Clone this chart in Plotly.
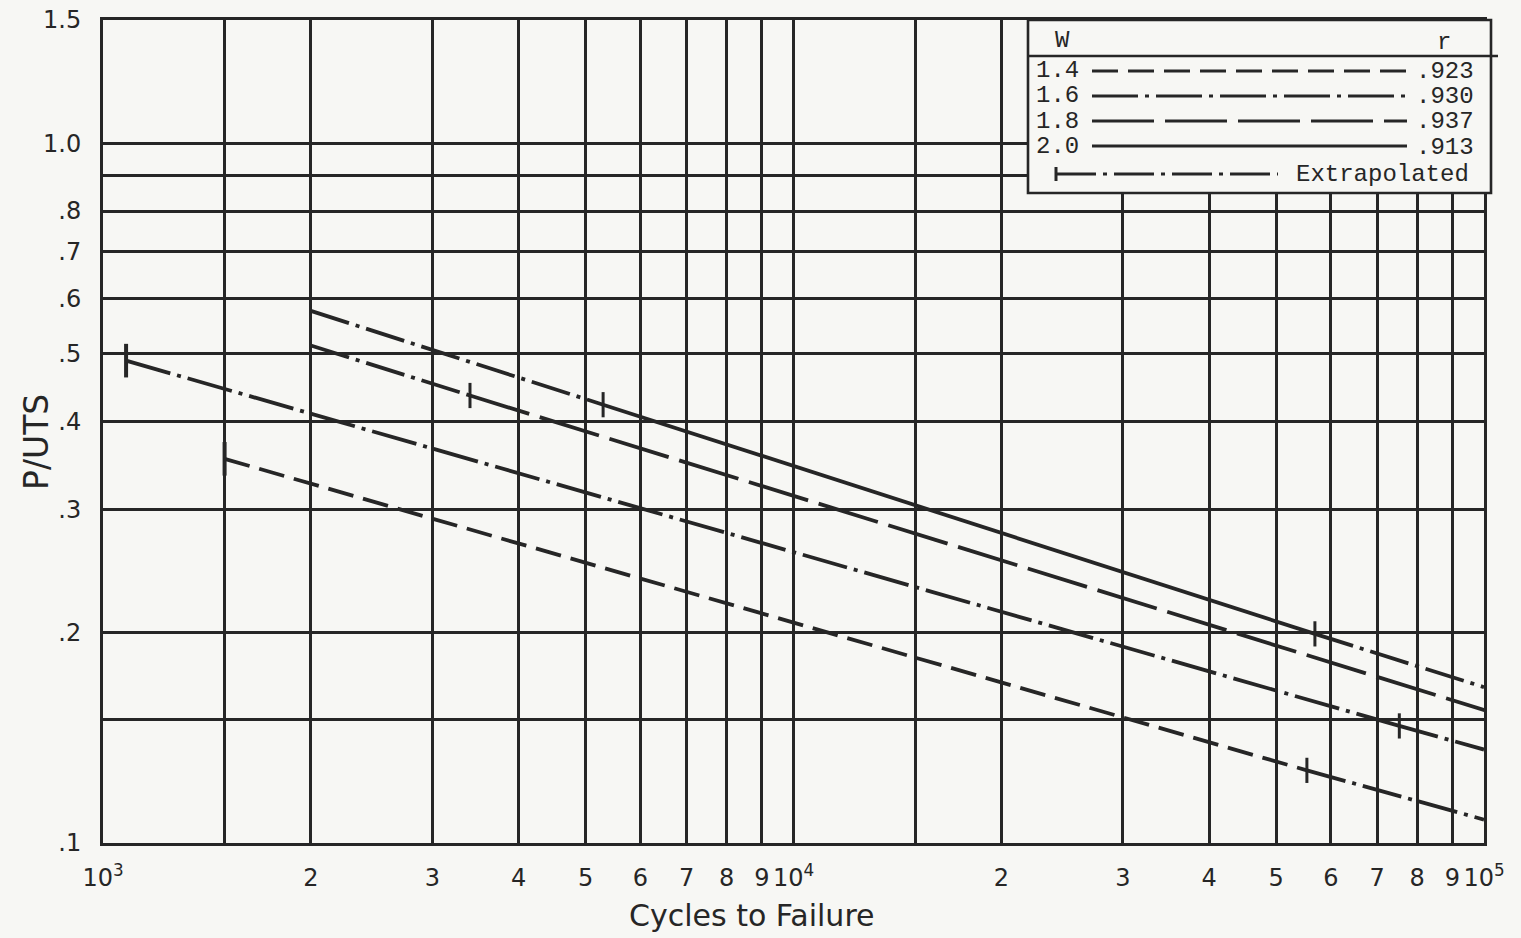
import math
import plotly.graph_objects as go

# ---- axis ticks -------------------------------------------------------------
x_tickvals = [1000, 1500, 2000, 3000, 4000, 5000, 6000, 7000, 8000, 9000,
              10000, 15000, 20000, 30000, 40000, 50000, 60000, 70000, 80000, 90000,
              100000]
x_ticktext = ["10<sup>3</sup>", "", "2", "3", "4", "5", "6", "7", "8", "9",
              "10<sup>4</sup>", "", "2", "3", "4", "5", "6", "7", "8", "9",
              "10<sup>5</sup>"]
y_tickvals = [0.1, 0.15, 0.2, 0.3, 0.4, 0.5, 0.6, 0.7, 0.8, 0.9, 1.0, 1.5]
y_ticktext = [".1", "", ".2", ".3", ".4", ".5", ".6", ".7", ".8", "", "1.0", "1.5"]

# ---- series: W values, correlation r, and break points of each fitted line ---
w_labels = ["1.4", "1.6", "1.8", "2.0"]
r_values = [".923", ".930", ".937", ".913"]

w14_x = [1500, 55400, 100000]
w14_y = [0.354, 0.127, 0.108]
w14_kind = ["data", "extrap"]          # kind of each segment between points

w16_x = [1080, 75400, 100000]
w16_y = [0.489, 0.147, 0.136]
w16_kind = ["data", "extrap"]

w18_x = [2000, 3400, 103000]
w18_y = [0.514, 0.436, 0.1535]
w18_kind = ["extrap", "data"]

w20_x = [2000, 5300, 56900, 100000]
w20_y = [0.576, 0.423, 0.199, 0.167]
w20_kind = ["extrap", "data", "extrap"]

# end bars (limits of extrapolation) and interior ticks (end of test data)
bar_x = [1500, 1080, 103000]
bar_y = [0.354, 0.489, 0.1535]
tick_x = [55400, 75400, 3400, 5300, 56900]
tick_y = [0.127, 0.147, 0.436, 0.423, 0.199]

# ---- styling ----------------------------------------------------------------
INK = "#262626"
PAPER = "#f7f7f4"
LW = 3.8
dash_styles = {
    "1.4": "26px,10px",
    "1.6": "46px,7px,4px,7px",
    "1.8": "62px,11px",
    "2.0": "solid",
    "extrap": "40px,7px,4px,7px",
}

series = [
    ("1.4", w14_x, w14_y, w14_kind),
    ("1.6", w16_x, w16_y, w16_kind),
    ("1.8", w18_x, w18_y, w18_kind),
    ("2.0", w20_x, w20_y, w20_kind),
]

fig = go.Figure()

for name, xs, ys, kinds in series:
    for i, kind in enumerate(kinds):
        dash = dash_styles[name] if kind == "data" else dash_styles["extrap"]
        fig.add_trace(go.Scatter(
            x=xs[i:i + 2], y=ys[i:i + 2], mode="lines",
            line=dict(color=INK, width=LW, dash=dash),
            showlegend=False, hoverinfo="skip",
        ))

fig.add_trace(go.Scatter(
    x=tick_x, y=tick_y, mode="markers",
    marker=dict(symbol="line-ns", size=18, line=dict(color=INK, width=3)),
    showlegend=False, hoverinfo="skip",
))
fig.add_trace(go.Scatter(
    x=bar_x, y=bar_y, mode="markers", cliponaxis=False,
    marker=dict(symbol="line-ns", size=24, line=dict(color=INK, width=4)),
    showlegend=False, hoverinfo="skip",
))

# ---- layout -----------------------------------------------------------------
W_PX, H_PX = 1521, 938
M_L, M_R, M_T, M_B = 103, 37, 20, 95
plot_w = W_PX - M_L - M_R
plot_h = H_PX - M_T - M_B


def px(xp):
    return (xp - M_L) / plot_w


def py(yp):
    return (H_PX - M_B - yp) / plot_h


tick_font = dict(family="DejaVu Sans", size=24, color=INK)

fig.update_layout(
    width=W_PX, height=H_PX,
    margin=dict(l=M_L, r=M_R, t=M_T, b=M_B, autoexpand=False),
    paper_bgcolor=PAPER, plot_bgcolor=PAPER,
    showlegend=False,
    xaxis=dict(
        type="log", range=[3, 5], automargin=False,
        tickmode="array", tickvals=x_tickvals, ticktext=x_ticktext,
        tickangle=0,
        showgrid=True, gridcolor=INK, gridwidth=2.5,
        showline=True, linecolor=INK, linewidth=3, mirror=True,
        ticks="outside", ticklen=11, tickcolor="rgba(0,0,0,0)",
        tickfont=tick_font, zeroline=False,
    ),
    yaxis=dict(
        type="log", range=[-1, math.log10(1.5)], automargin=False,
        tickmode="array", tickvals=y_tickvals, ticktext=y_ticktext,
        showgrid=True, gridcolor=INK, gridwidth=2.5,
        showline=True, linecolor=INK, linewidth=3, mirror=True,
        ticks="outside", ticklen=14, tickcolor="rgba(0,0,0,0)",
        tickfont=tick_font, zeroline=False,
    ),
)

annotations = [
    dict(text="Cycles to Failure", x=px(752), y=py(915), xref="paper", yref="paper",
         showarrow=False, font=dict(family="DejaVu Sans", size=30, color=INK),
         xanchor="center", yanchor="middle"),
    dict(text="P/UTS", x=px(36), y=py(442), xref="paper", yref="paper",
         showarrow=False, textangle=-90,
         font=dict(family="DejaVu Sans", size=33, color=INK),
         xanchor="center", yanchor="middle"),
]

# ---- key box ----------------------------------------------------------------
shapes = []
box = dict(x0=px(1028), x1=px(1491), y0=py(193), y1=py(20))
shapes.append(dict(type="rect", xref="paper", yref="paper", layer="above",
                   fillcolor=PAPER, line=dict(color=INK, width=2.6), **box))
shapes.append(dict(type="line", xref="paper", yref="paper", layer="above",
                   x0=px(1028), x1=px(1498), y0=py(56), y1=py(56),
                   line=dict(color=INK, width=2.6)))

mono = dict(family="Liberation Mono", size=24, color=INK)
annotations.append(dict(text="W", x=px(1062), y=py(41), xref="paper", yref="paper",
                        showarrow=False, font=mono, xanchor="center", yanchor="middle"))
annotations.append(dict(text="r", x=px(1444), y=py(42), xref="paper", yref="paper",
                        showarrow=False, font=mono, xanchor="center", yanchor="middle"))

row_y = [71, 96, 121, 146]
for lab, rv, ry in zip(w_labels, r_values, row_y):
    annotations.append(dict(text=lab, x=px(1034), y=py(ry), xref="paper", yref="paper",
                            showarrow=False, font=mono, xanchor="left", yanchor="middle"))
    annotations.append(dict(text=rv, x=px(1476), y=py(ry + 1), xref="paper", yref="paper",
                            showarrow=False, font=mono, xanchor="right", yanchor="middle"))
    shapes.append(dict(type="line", xref="paper", yref="paper", layer="above",
                       x0=px(1092), x1=px(1407), y0=py(ry), y1=py(ry),
                       line=dict(color=INK, width=3.2, dash=dash_styles[lab])))

ext_y = 174
shapes.append(dict(type="line", xref="paper", yref="paper", layer="above",
                   x0=px(1056), x1=px(1278), y0=py(ext_y), y1=py(ext_y),
                   line=dict(color=INK, width=3.2, dash=dash_styles["extrap"])))
shapes.append(dict(type="line", xref="paper", yref="paper", layer="above",
                   x0=px(1056), x1=px(1056), y0=py(ext_y - 7), y1=py(ext_y + 7),
                   line=dict(color=INK, width=3)))
annotations.append(dict(text="Extrapolated", x=px(1471), y=py(ext_y), xref="paper",
                        yref="paper", showarrow=False, font=mono,
                        xanchor="right", yanchor="middle"))

fig.update_layout(shapes=shapes, annotations=annotations)

fig.write_html("out.html")
